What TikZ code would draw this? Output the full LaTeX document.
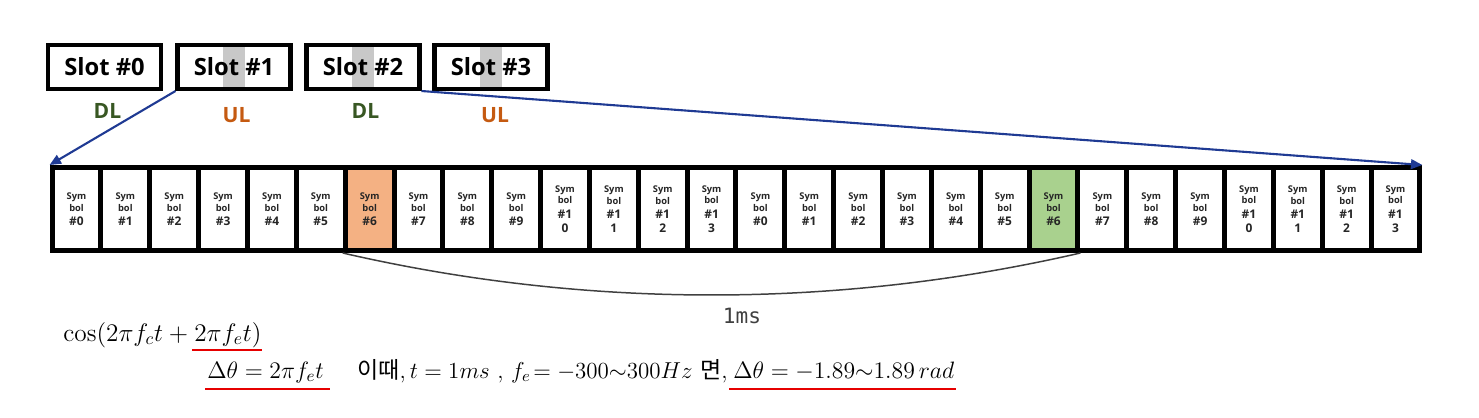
\RequirePackage{fix-cm}
\documentclass[tikz,border=0pt]{standalone}
\usepackage{fontspec}
\setsansfont{Open Sans}
\setmonofont{DejaVu Sans Mono}
\newfontfamily\krfont{Noto Sans CJK KR}
\usepackage{xcolor}
\usepackage{tikz}
\usetikzlibrary{arrows.meta,calc}

\definecolor{dlgreen}{RGB}{56,87,35}
\definecolor{ulorange}{RGB}{197,90,17}
\definecolor{linkblue}{RGB}{31,58,147}
\definecolor{symorange}{RGB}{244,177,131}
\definecolor{symgreen}{RGB}{169,209,142}
\definecolor{stripegray}{RGB}{200,200,200}
\definecolor{arcgray}{RGB}{64,64,64}
\definecolor{symtext}{RGB}{38,38,38}
\definecolor{markred}{RGB}{230,0,0}

\newcommand{\symnr}[1]{{\fontsize{6.8}{8}\selectfont #1}}

\begin{document}
\begin{tikzpicture}[x=0.02cm, y=-0.02cm,
  slotbox/.style={draw, line width=2.3pt, minimum width=2.26cm, minimum height=0.88cm, inner sep=0pt, font=\sffamily\bfseries\fontsize{13.5}{16}\selectfont},
  dirlbl/.style={font=\sffamily\bfseries\fontsize{12}{14}\selectfont},
  symcell/.style={draw, fill=white, line width=0.1cm, minimum width=0.977cm, minimum height=1.66cm, inner sep=0pt, align=center, text=symtext, font=\sffamily\bfseries\fontsize{5.3}{6.8}\selectfont},
  linkarrow/.style={linkblue, line width=1.2pt, -{Triangle[length=6.5pt,width=5.5pt]}},
  mathtxt/.style={inner sep=0pt, anchor=base west, font=\fontsize{13.5}{16}\selectfont},
  redline/.style={markred, line width=1.4pt}]
  \useasboundingbox (0,0) rectangle (1479,418);

  % slots
  \fill[stripegray] (223.3,47) rectangle (244.7,87);
  \fill[stripegray] (352.3,47) rectangle (373.7,87);
  \fill[stripegray] (480.3,47) rectangle (501.7,87);
  \node[slotbox] (slot0) at (104.5,67) {Slot \#0};
  \node[slotbox] (slot1) at (234,67) {Slot \#1};
  \node[slotbox] (slot2) at (363,67) {Slot \#2};
  \node[slotbox] (slot3) at (491,67) {Slot \#3};
  \node[dirlbl, text=dlgreen] (dir0) at (107.5,111) {DL};
  \node[dirlbl, text=ulorange] (dir1) at (236.5,115) {UL};
  \node[dirlbl, text=dlgreen] (dir2) at (365.5,111) {DL};
  \node[dirlbl, text=ulorange] (dir3) at (495,115) {UL};

  % symbols of two slots
  \node[symcell] (s0) at (76.5,209) {Sym\\bol\\[1.2pt]\symnr{\#0}};
  \node[symcell] (s1) at (125.35,209) {Sym\\bol\\[1.2pt]\symnr{\#1}};
  \node[symcell] (s2) at (174.2,209) {Sym\\bol\\[1.2pt]\symnr{\#2}};
  \node[symcell] (s3) at (223.05,209) {Sym\\bol\\[1.2pt]\symnr{\#3}};
  \node[symcell] (s4) at (271.9,209) {Sym\\bol\\[1.2pt]\symnr{\#4}};
  \node[symcell] (s5) at (320.75,209) {Sym\\bol\\[1.2pt]\symnr{\#5}};
  \node[symcell, fill=symorange] (s6) at (369.6,209) {Sym\\bol\\[1.2pt]\symnr{\#6}};
  \node[symcell] (s7) at (418.45,209) {Sym\\bol\\[1.2pt]\symnr{\#7}};
  \node[symcell] (s8) at (467.3,209) {Sym\\bol\\[1.2pt]\symnr{\#8}};
  \node[symcell] (s9) at (516.15,209) {Sym\\bol\\[1.2pt]\symnr{\#9}};
  \node[symcell] (s10) at (565,209) {Sym\\bol\\[1.2pt]\symnr{\#1}\\[1.5pt]\symnr{0}};
  \node[symcell] (s11) at (613.85,209) {Sym\\bol\\[1.2pt]\symnr{\#1}\\[1.5pt]\symnr{1}};
  \node[symcell] (s12) at (662.7,209) {Sym\\bol\\[1.2pt]\symnr{\#1}\\[1.5pt]\symnr{2}};
  \node[symcell] (s13) at (711.55,209) {Sym\\bol\\[1.2pt]\symnr{\#1}\\[1.5pt]\symnr{3}};
  \node[symcell] (s14) at (760.4,209) {Sym\\bol\\[1.2pt]\symnr{\#0}};
  \node[symcell] (s15) at (809.25,209) {Sym\\bol\\[1.2pt]\symnr{\#1}};
  \node[symcell] (s16) at (858.1,209) {Sym\\bol\\[1.2pt]\symnr{\#2}};
  \node[symcell] (s17) at (906.95,209) {Sym\\bol\\[1.2pt]\symnr{\#3}};
  \node[symcell] (s18) at (955.8,209) {Sym\\bol\\[1.2pt]\symnr{\#4}};
  \node[symcell] (s19) at (1004.65,209) {Sym\\bol\\[1.2pt]\symnr{\#5}};
  \node[symcell, fill=symgreen] (s20) at (1053.5,209) {Sym\\bol\\[1.2pt]\symnr{\#6}};
  \node[symcell] (s21) at (1102.35,209) {Sym\\bol\\[1.2pt]\symnr{\#7}};
  \node[symcell] (s22) at (1151.2,209) {Sym\\bol\\[1.2pt]\symnr{\#8}};
  \node[symcell] (s23) at (1200.05,209) {Sym\\bol\\[1.2pt]\symnr{\#9}};
  \node[symcell] (s24) at (1248.9,209) {Sym\\bol\\[1.2pt]\symnr{\#1}\\[1.5pt]\symnr{0}};
  \node[symcell] (s25) at (1297.75,209) {Sym\\bol\\[1.2pt]\symnr{\#1}\\[1.5pt]\symnr{1}};
  \node[symcell] (s26) at (1346.6,209) {Sym\\bol\\[1.2pt]\symnr{\#1}\\[1.5pt]\symnr{2}};
  \node[symcell] (s27) at (1395.45,209) {Sym\\bol\\[1.2pt]\symnr{\#1}\\[1.5pt]\symnr{3}};

  \draw[linkarrow] (slot1.south west) -- (s0.north west);
  \draw[linkarrow] (slot2.south east) -- (s27.north east);

  \draw[arcgray, line width=0.85pt] (s6.south west) .. controls +(243,56) and +(-243,56) .. (s20.south east);
  \node[font=\ttfamily\fontsize{12}{14}\selectfont, text=arcgray] (ms) at (742,316) {1ms};

  % phase error
  \node[mathtxt, font=\fontsize{14.4}{17}\selectfont] (cosl) at (63,341) {$\cos(2\pi f_c t +{}$};
  \node[mathtxt, font=\fontsize{14.4}{17}\selectfont] (cosr) at (cosl.base east) {$2\pi f_e t)$};
  \node[mathtxt] (dth) at (207,378) {$\Delta\theta = 2\pi f_e t$};
  \node[mathtxt, font=\fontsize{13.1}{16}\selectfont] (cond) at (357,378) {{\krfont 이때},$\,t = 1ms$ , $f_e\!= -300{\sim}300Hz$ {\krfont 면},};
  \node[mathtxt] (res) at (733,378) {$\Delta\theta = -1.89{\sim}1.89\,rad$};
  \draw[redline] ($(cosr.base west)+(-2,9)$) -- ($(cosr.base east)+(0,9)$);
  \draw[redline] ($(dth.base west)+(-2,11)$) -- ($(dth.base east)+(6,11)$);
  \draw[redline] ($(res.base west)+(-4,11)$) -- ($(res.base east)+(1,11)$);
\end{tikzpicture}
\end{document}
